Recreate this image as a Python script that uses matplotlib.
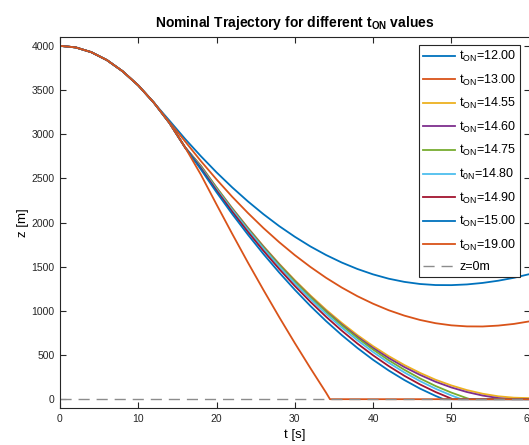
import matplotlib
matplotlib.use('Agg')
import matplotlib.pyplot as plt

plt.rcParams['font.family'] = ['Liberation Sans', 'DejaVu Sans']
plt.rcParams['mathtext.fontset'] = 'custom'
plt.rcParams['mathtext.rm'] = 'Liberation Sans'
plt.rcParams['mathtext.it'] = 'Liberation Sans:italic'
plt.rcParams['mathtext.bf'] = 'Liberation Sans:bold'

# time grid [s]
t_grid = [0, 2, 4, 6, 8, 10, 12, 14, 16, 18, 20, 22, 24, 26, 28, 30,
          32, 34, 36, 38, 40, 42, 44, 46, 48, 50, 52, 54, 56, 58, 60]

# altitude z [m] for each engine-on time
z_12_00 = [4000, 3982, 3928, 3838, 3712, 3552, 3356, 3152, 2945, 2751, 2568, 2398, 2240, 2094, 1960, 1839,
           1729, 1632, 1547, 1474, 1413, 1364, 1328, 1304, 1292, 1291, 1299, 1316, 1341, 1374, 1416]
z_13_00 = [4000, 3982, 3928, 3838, 3712, 3552, 3356, 3135, 2917, 2696, 2488, 2292, 2109, 1937, 1778, 1631,
           1497, 1374, 1264, 1166, 1081, 1007, 946, 897, 860, 836, 824, 823, 833, 852, 881]
z_14_55 = [4000, 3982, 3928, 3838, 3712, 3552, 3356, 3125, 2848, 2644, 2398, 2164, 1942, 1732, 1534, 1348,
           1175, 1013, 864, 726, 601, 488, 387, 298, 220, 156, 103, 62, 33, 17, 12]
z_14_60 = [4000, 3982, 3928, 3838, 3712, 3552, 3356, 3125, 2848, 2640, 2392, 2158, 1936, 1725, 1526, 1337,
           1161, 997, 846, 707, 580, 466, 364, 275, 197, 133, 81, 41, 13, 0, 0]
z_14_75 = [4000, 3982, 3928, 3838, 3712, 3552, 3356, 3125, 2848, 2635, 2390, 2152, 1930, 1718, 1520, 1333,
           1156, 990, 836, 693, 562, 441, 333, 235, 149, 75, 11, 0, 0, 0, 0]
z_14_80 = [4000, 3982, 3928, 3838, 3712, 3552, 3356, 3125, 2848, 2625, 2378, 2142, 1917, 1704, 1502, 1312,
           1134, 966, 811, 667, 534, 413, 303, 205, 118, 43, 0, 0, 0, 0, 0]
z_14_90 = [4000, 3982, 3928, 3838, 3712, 3552, 3356, 3125, 2848, 2615, 2363, 2123, 1895, 1679, 1475, 1282,
           1102, 933, 776, 630, 497, 375, 265, 167, 81, 7, 0, 0, 0, 0, 0]
z_15_00 = [4000, 3982, 3928, 3838, 3712, 3552, 3356, 3125, 2848, 2601, 2343, 2097, 1864, 1643, 1435, 1239,
           1055, 884, 726, 580, 446, 325, 217, 120, 37, 0, 0, 0, 0, 0, 0]
z_19_00 = [4000, 3982, 3928, 3838, 3712, 3552, 3356, 3125, 2848, 2542, 2205, 1873, 1549, 1236, 931, 636,
           351, 74, 0, 0, 0, 0, 0, 0, 0, 0, 0, 0, 0, 0, 0]

# touchdown times [s] (None = no touchdown shown)
t_land = [None, None, None, 57.6, 52.4, 51.3, 50.2, 49.0, 34.5]

labels = ['t$_{\\mathrm{ON}}$=12.00', 't$_{\\mathrm{ON}}$=13.00', 't$_{\\mathrm{ON}}$=14.55',
          't$_{\\mathrm{ON}}$=14.60', 't$_{\\mathrm{ON}}$=14.75', 't$_{\\mathrm{0N}}$=14.80',
          't$_{\\mathrm{ON}}$=14.90', 't$_{\\mathrm{ON}}$=15.00', 't$_{\\mathrm{ON}}$=19.00']
series = [z_12_00, z_13_00, z_14_55, z_14_60, z_14_75, z_14_80, z_14_90, z_15_00, z_19_00]
colors = ['#0072BD', '#D95319', '#EDB120', '#7E2F8E', '#77AC30',
          '#4DBEEE', '#A2142F', '#0072BD', '#D95319']

fig = plt.figure(figsize=(5.29, 4.45), dpi=100)
ax = fig.add_axes([0.1134, 0.0831, 0.8876, 0.8338])

for z, tl, c, lab in zip(series, t_land, colors, labels):
    pts = list(zip(t_grid, z))
    if tl is not None:
        pts.append((tl, 0))
        pts.sort()
    ax.plot([p[0] for p in pts], [p[1] for p in pts], color=c, lw=1.3, label=lab)

ax.plot([0, 60], [0, 0], color='#8c8c8c', lw=1.0, ls=(0, (8, 5)), label='z=0m')

ax.set_xlim(0, 60)
ax.set_ylim(-100, 4100)
ax.set_xticks([0, 10, 20, 30, 40, 50, 60])
ax.set_yticks([0, 500, 1000, 1500, 2000, 2500, 3000, 3500, 4000])
ax.tick_params(direction='in', length=4, width=0.8, top=True, right=True,
               labelsize=7.5, colors='#262626', pad=4)
for s in ax.spines.values():
    s.set_color('#262626')
    s.set_linewidth(0.8)

ax.set_xlabel('t [s]', fontsize=9.5, labelpad=4)
ax.set_ylabel('z [m]', fontsize=9.5, labelpad=2)
ax.set_title('Nominal Trajectory for different t$_{\\mathbf{ON}}$ values',
             fontsize=10, fontweight='bold', pad=7)

leg = ax.legend(loc='upper right', bbox_to_anchor=(0.98, 0.978), fontsize=9,
                fancybox=False, framealpha=1, edgecolor='#262626',
                handlelength=2.6, labelspacing=0.68, borderpad=0.3,
                handletextpad=0.3, borderaxespad=0)
leg.get_frame().set_linewidth(0.8)

plt.savefig('out.png', dpi=100)
